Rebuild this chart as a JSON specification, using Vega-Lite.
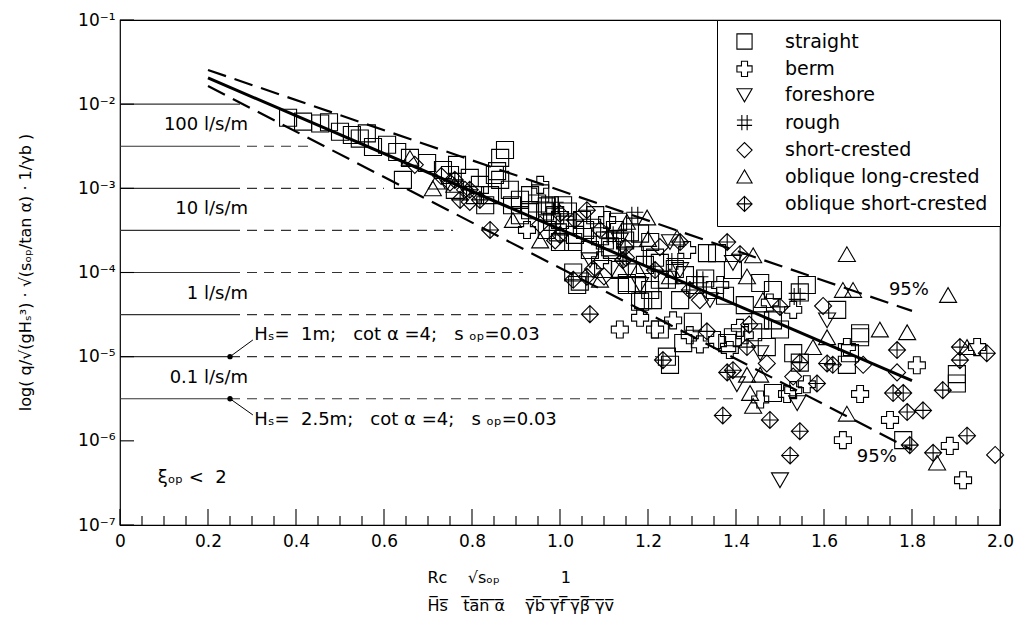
{
"$schema": "https://vega.github.io/schema/vega-lite/v6.json",
"width": 880, "height": 505,
"autosize": {"type": "none"},
"padding": {"left": 120, "top": 20, "right": 19, "bottom": 103},
"config": {
  "font": "DejaVu Sans",
  "view": {"stroke": "black", "strokeWidth": 1.2},
  "axis": {"grid": false, "ticks": false, "domain": false, "labelColor": "black", "titleColor": "black", "titleFontWeight": "normal", "labelOverlap": false, "labelFlush": false, "zindex": 1}
},
"datasets": {
  "xmaj": [{"v":0},{"v":0.2},{"v":0.4},{"v":0.6},{"v":0.8},{"v":1.0},{"v":1.2},{"v":1.4},{"v":1.6},{"v":1.8},{"v":2.0}],
  "xmin": [{"v":0.05},{"v":0.1},{"v":0.15},{"v":0.25},{"v":0.3},{"v":0.35},{"v":0.45},{"v":0.5},{"v":0.55},{"v":0.65},{"v":0.7},{"v":0.75},{"v":0.85},{"v":0.9},{"v":0.95},{"v":1.05},{"v":1.1},{"v":1.15},{"v":1.25},{"v":1.3},{"v":1.35},{"v":1.45},{"v":1.5},{"v":1.55},{"v":1.65},{"v":1.7},{"v":1.75},{"v":1.85},{"v":1.9},{"v":1.95}],
  "ymaj": [{"q":1e-7},{"q":1e-6},{"q":1e-5},{"q":1e-4},{"q":1e-3},{"q":1e-2},{"q":1e-1}],
  "hl": [
    {"q": 1e-2, "x0": 0, "xs": 0.25, "xe": 0.277},
    {"q": 3.162e-3, "x0": 0, "xs": 0.25, "xe": 0.44},
    {"q": 1e-3, "x0": 0, "xs": 0.25, "xe": 0.6},
    {"q": 3.162e-4, "x0": 0, "xs": 0.25, "xe": 0.757},
    {"q": 1e-4, "x0": 0, "xs": 0.25, "xe": 0.916},
    {"q": 3.162e-5, "x0": 0, "xs": 0.25, "xe": 1.04},
    {"q": 1e-5, "x0": 0, "xs": 0.25, "xe": 1.22},
    {"q": 3.162e-6, "x0": 0, "xs": 0.25, "xe": 1.40}
  ],
  "trend": [
    {"k": "mean", "x": 0.2, "q": 0.0205}, {"k": "mean", "x": 1.8, "q": 5.2e-6},
    {"k": "up", "x": 0.2, "q": 0.0255}, {"k": "up", "x": 1.8, "q": 3.5e-5},
    {"k": "lo", "x": 0.2, "q": 0.0164}, {"k": "lo", "x": 1.8, "q": 7.8e-7}
  ],
  "lead": [
    {"x": 0.25, "q": 1e-5, "xb": 0.302, "qb": 1.58e-5},
    {"x": 0.25, "q": 3.162e-6, "xb": 0.302, "qb": 2.03e-6}
  ],
  "dots": [{"x": 0.25, "q": 1e-5}, {"x": 0.25, "q": 3.162e-6}],
  "flow": [
    {"t": "100 l/s/m", "x": 0.291, "q": 5.62e-3},
    {"t": "10 l/s/m", "x": 0.291, "q": 5.62e-4},
    {"t": "1 l/s/m", "x": 0.291, "q": 5.62e-5},
    {"t": "0.1 l/s/m", "x": 0.291, "q": 5.62e-6}
  ],
  "notes": [
    {"t": "Hₛ=\u00a0\u00a01m;\u00a0\u00a0\u00a0cot α =4;\u00a0\u00a0\u00a0s ₒₚ=0.03", "x": 0.305, "q": 1.81e-5},
    {"t": "Hₛ=\u00a0\u00a02.5m;\u00a0\u00a0\u00a0cot α =4;\u00a0\u00a0\u00a0s ₒₚ=0.03", "x": 0.305, "q": 1.75e-6},
    {"t": "ξₒₚ <\u00a0\u00a02", "x": 0.086, "q": 3.62e-7}
  ],
  "pct": [
    {"t": "95%", "x": 1.793, "q": 6.2e-5},
    {"t": "95%", "x": 1.72, "q": 6.43e-7}
  ],
  "pts": [
    {"s":"straight","x":0.382,"q":6.9e-3},{"s":"straight","x":0.416,"q":6.2e-3},{"s":"straight","x":0.455,"q":5.9e-3},{"s":"straight","x":0.475,"q":6.1e-3},
    {"s":"straight","x":0.5,"q":4.7e-3},{"s":"straight","x":0.527,"q":4.3e-3},{"s":"straight","x":0.545,"q":3.9e-3},{"s":"straight","x":0.561,"q":4.5e-3},
    {"s":"straight","x":0.575,"q":3.1e-3},{"s":"straight","x":0.607,"q":3.3e-3},{"s":"straight","x":0.63,"q":2.7e-3},{"s":"straight","x":0.643,"q":1.26e-3},
    {"s":"straight","x":0.659,"q":2.3e-3},{"s":"straight","x":0.698,"q":2.0e-3},{"s":"straight","x":0.734,"q":1.65e-3},{"s":"straight","x":0.766,"q":1.9e-3},
    {"s":"straight","x":0.795,"q":1.33e-3},{"s":"straight","x":0.864,"q":2.3e-3},{"s":"straight","x":0.875,"q":2.85e-3},{"s":"straight","x":0.857,"q":1.6e-3},
    {"s":"straight","x":0.864,"q":1.26e-3},{"s":"straight","x":0.909,"q":7.3e-4},{"s":"straight","x":0.886,"q":9.6e-4},{"s":"straight","x":0.977,"q":6.3e-4},
    {"s":"straight","x":1.007,"q":6.3e-4},{"s":"straight","x":0.955,"q":8.7e-4},{"s":"straight","x":0.948,"q":6.6e-4},{"s":"straight","x":0.97,"q":6.1e-4},
    {"s":"straight","x":0.97,"q":3.2e-4},{"s":"straight","x":1.0,"q":4.2e-4},{"s":"straight","x":1.0,"q":2.3e-4},{"s":"straight","x":1.03,"q":2.3e-4},
    {"s":"straight","x":1.091,"q":2.7e-4},{"s":"straight","x":1.114,"q":2.0e-4},{"s":"straight","x":1.03,"q":1.0e-4},{"s":"straight","x":1.039,"q":7.1e-5},
    {"s":"straight","x":1.152,"q":7.1e-5},{"s":"straight","x":1.175,"q":7.1e-5},{"s":"straight","x":1.182,"q":2.9e-4},{"s":"straight","x":1.205,"q":2.3e-4},
    {"s":"straight","x":1.227,"q":1.3e-4},{"s":"straight","x":1.243,"q":8.2e-5},{"s":"straight","x":1.189,"q":4.7e-5},{"s":"straight","x":1.211,"q":4.7e-5},
    {"s":"straight","x":1.045,"q":7.8e-5},{"s":"straight","x":1.098,"q":1.1e-4},{"s":"straight","x":1.152,"q":7.5e-5},{"s":"straight","x":1.182,"q":4.5e-5},
    {"s":"straight","x":1.205,"q":6.2e-5},{"s":"straight","x":1.227,"q":8.2e-5},{"s":"straight","x":1.334,"q":1.7e-4},{"s":"straight","x":1.357,"q":1.7e-4},
    {"s":"straight","x":1.393,"q":1.07e-4},{"s":"straight","x":1.455,"q":7.5e-5},{"s":"straight","x":1.484,"q":6.2e-5},{"s":"straight","x":1.545,"q":5.8e-5},
    {"s":"straight","x":1.561,"q":7.1e-5},{"s":"straight","x":1.63,"q":3.6e-5},{"s":"straight","x":1.682,"q":1.9e-5},{"s":"straight","x":1.227,"q":2.1e-5},
    {"s":"straight","x":1.28,"q":1.45e-5},{"s":"straight","x":1.243,"q":1.0e-5},{"s":"straight","x":1.25,"q":8.0e-6},{"s":"straight","x":1.302,"q":2.6e-5},
    {"s":"straight","x":1.38,"q":1.45e-5},{"s":"straight","x":1.393,"q":1.7e-5},{"s":"straight","x":1.439,"q":1.95e-5},{"s":"straight","x":1.47,"q":1.3e-5},
    {"s":"straight","x":1.455,"q":2.7e-5},{"s":"straight","x":1.484,"q":2.7e-5},{"s":"straight","x":1.5,"q":2.1e-5},{"s":"straight","x":1.53,"q":1.1e-5},
    {"s":"straight","x":1.545,"q":8.5e-6},{"s":"straight","x":1.652,"q":8.0e-6},{"s":"straight","x":1.659,"q":1.1e-5},{"s":"straight","x":1.682,"q":1.7e-5},
    {"s":"straight","x":1.484,"q":3.7e-6},{"s":"straight","x":1.78,"q":1.02e-6},{"s":"straight","x":1.902,"q":4.8e-6},{"s":"straight","x":1.902,"q":6.2e-6},
    {"s":"straight","x":0.932,"q":5.5e-4},{"s":"straight","x":0.989,"q":4.8e-4},{"s":"straight","x":1.011,"q":3.7e-4},{"s":"straight","x":1.057,"q":3.2e-4},
    {"s":"straight","x":1.08,"q":4.8e-4},{"s":"straight","x":1.125,"q":3.2e-4},{"s":"straight","x":1.148,"q":2.4e-4},{"s":"straight","x":1.068,"q":1.85e-4},
    {"s":"straight","x":1.17,"q":1.6e-4},{"s":"straight","x":1.193,"q":1.23e-4},{"s":"straight","x":1.216,"q":1.5e-4},{"s":"straight","x":1.261,"q":1.1e-4},
    {"s":"straight","x":1.284,"q":9.3e-5},{"s":"straight","x":1.307,"q":7.1e-5},{"s":"straight","x":1.33,"q":8.5e-5},{"s":"straight","x":1.352,"q":6.2e-5},
    {"s":"straight","x":1.375,"q":5.3e-5},{"s":"straight","x":1.42,"q":4.1e-5},{"s":"straight","x":0.75,"q":1.44e-3},{"s":"straight","x":0.818,"q":1.1e-3},
    {"s":"straight","x":0.841,"q":8.3e-4},{"s":"straight","x":1.118,"q":1.85e-4},{"s":"straight","x":1.273,"q":4.7e-5},{"s":"straight","x":1.136,"q":1.07e-4},
    {"s":"straight","x":0.966,"q":5.3e-4},{"s":"straight","x":0.982,"q":4.0e-4},{"s":"straight","x":0.995,"q":3.0e-4},{"s":"straight","x":1.018,"q":5.3e-4},
    {"s":"straight","x":1.034,"q":2.8e-4},{"s":"straight","x":1.05,"q":4.2e-4},{"s":"straight","x":1.073,"q":3.4e-4},{"s":"straight","x":1.102,"q":2.4e-4},
    {"s":"straight","x":1.132,"q":4.0e-4},{"s":"straight","x":1.159,"q":3.0e-4},{"s":"straight","x":0.909,"q":4.8e-4},{"s":"straight","x":0.932,"q":8.3e-4},
    {"s":"straight","x":0.891,"q":6.3e-4},{"s":"straight","x":0.761,"q":9.6e-4},{"s":"straight","x":0.807,"q":8.3e-4},{"s":"straight","x":0.83,"q":6.3e-4},
    {"s":"straight","x":0.852,"q":1.44e-3},
    {"s":"berm","x":0.955,"q":1.1e-3},{"s":"berm","x":0.925,"q":3.2e-4},{"s":"berm","x":1.107,"q":4.2e-4},{"s":"berm","x":1.257,"q":2.7e-5},
    {"s":"berm","x":1.289,"q":1.85e-4},{"s":"berm","x":1.357,"q":1.58e-5},{"s":"berm","x":1.409,"q":2.2e-5},{"s":"berm","x":1.42,"q":1.8e-5},
    {"s":"berm","x":1.455,"q":3.1e-6},{"s":"berm","x":1.516,"q":3.6e-6},{"s":"berm","x":1.53,"q":3.6e-5},{"s":"berm","x":1.53,"q":4.0e-6},
    {"s":"berm","x":1.561,"q":4.7e-6},{"s":"berm","x":1.652,"q":1.3e-5},{"s":"berm","x":1.682,"q":3.6e-6},{"s":"berm","x":1.75,"q":1.77e-6},
    {"s":"berm","x":1.811,"q":7.9e-6},{"s":"berm","x":1.643,"q":1.02e-6},{"s":"berm","x":1.886,"q":8.7e-7},{"s":"berm","x":1.916,"q":3.4e-7},
    {"s":"berm","x":1.948,"q":1.3e-5},{"s":"berm","x":1.182,"q":2.9e-5},{"s":"berm","x":1.216,"q":2.1e-5},{"s":"berm","x":1.295,"q":1.8e-5},
    {"s":"berm","x":1.318,"q":1.4e-5},{"s":"berm","x":1.386,"q":1.2e-5},{"s":"berm","x":1.136,"q":2.1e-5},{"s":"berm","x":1.091,"q":1.4e-4},
    {"s":"berm","x":1.364,"q":7.1e-5},{"s":"berm","x":1.477,"q":4.4e-5},
    {"s":"foreshore","x":1.402,"q":4.7e-6},{"s":"foreshore","x":1.539,"q":2.8e-6},{"s":"foreshore","x":1.5,"q":3.4e-7},{"s":"foreshore","x":1.607,"q":2.7e-5},
    {"s":"foreshore","x":1.068,"q":1.4e-4},{"s":"foreshore","x":1.182,"q":7.1e-5},{"s":"foreshore","x":1.341,"q":4.7e-5},{"s":"foreshore","x":1.455,"q":1.1e-5},
    {"s":"foreshore","x":1.273,"q":1.07e-4},{"s":"foreshore","x":1.136,"q":2.4e-4},{"s":"foreshore","x":1.25,"q":2.3e-4},{"s":"foreshore","x":1.393,"q":1.3e-4},
    {"s":"rough","x":1.539,"q":5.2e-5},{"s":"rough","x":1.17,"q":4.8e-4},{"s":"rough","x":0.989,"q":6.3e-4},{"s":"rough","x":1.318,"q":8.2e-5},
    {"s":"rough","x":1.114,"q":2.8e-4},{"s":"rough","x":1.261,"q":1.35e-4},
    {"s":"short-crested","x":0.795,"q":6.9e-4},{"s":"short-crested","x":1.075,"q":1.1e-4},{"s":"short-crested","x":1.598,"q":4.0e-5},{"s":"short-crested","x":1.689,"q":8.0e-6},
    {"s":"short-crested","x":1.766,"q":6.5e-6},{"s":"short-crested","x":1.989,"q":6.8e-7},{"s":"short-crested","x":0.75,"q":1.17e-3},{"s":"short-crested","x":0.784,"q":9.6e-4},
    {"s":"short-crested","x":0.67,"q":1.9e-3},{"s":"short-crested","x":0.955,"q":3.7e-4},{"s":"short-crested","x":0.989,"q":2.4e-4},{"s":"short-crested","x":1.091,"q":3.2e-4},
    {"s":"short-crested","x":1.227,"q":2.0e-4},{"s":"short-crested","x":1.318,"q":4.7e-5},{"s":"short-crested","x":1.47,"q":8.3e-6},{"s":"short-crested","x":1.53,"q":5.8e-6},
    {"s":"short-crested","x":1.0,"q":5.0e-4},{"s":"short-crested","x":1.15,"q":1.5e-4},{"s":"short-crested","x":0.73,"q":1.4e-3},{"s":"short-crested","x":1.1,"q":9.0e-5},
    {"s":"short-crested","x":1.43,"q":2.4e-5},
    {"s":"oblique long-crested","x":0.711,"q":1.0e-3},{"s":"oblique long-crested","x":0.72,"q":1.2e-3},{"s":"oblique long-crested","x":0.659,"q":2.3e-3},{"s":"oblique long-crested","x":0.893,"q":4.2e-4},
    {"s":"oblique long-crested","x":1.198,"q":4.5e-4},{"s":"oblique long-crested","x":1.266,"q":2.6e-4},{"s":"oblique long-crested","x":1.439,"q":1.6e-4},{"s":"oblique long-crested","x":1.425,"q":9.0e-5},
    {"s":"oblique long-crested","x":1.25,"q":9.0e-5},{"s":"oblique long-crested","x":1.461,"q":4.7e-5},{"s":"oblique long-crested","x":1.575,"q":1.3e-5},{"s":"oblique long-crested","x":1.607,"q":1.7e-5},
    {"s":"oblique long-crested","x":1.643,"q":6.2e-5},{"s":"oblique long-crested","x":1.666,"q":6.2e-5},{"s":"oblique long-crested","x":1.652,"q":1.65e-4},{"s":"oblique long-crested","x":1.727,"q":2.1e-5},
    {"s":"oblique long-crested","x":1.789,"q":1.95e-5},{"s":"oblique long-crested","x":1.882,"q":5.4e-5},{"s":"oblique long-crested","x":1.425,"q":6.1e-6},{"s":"oblique long-crested","x":1.455,"q":6.1e-6},
    {"s":"oblique long-crested","x":1.432,"q":3.7e-6},{"s":"oblique long-crested","x":1.439,"q":2.6e-6},{"s":"oblique long-crested","x":1.652,"q":2.1e-6},{"s":"oblique long-crested","x":1.857,"q":5.5e-7},
    {"s":"oblique long-crested","x":1.925,"q":1.3e-5},{"s":"oblique long-crested","x":1.091,"q":8.2e-5},{"s":"oblique long-crested","x":0.955,"q":2.4e-4},{"s":"oblique long-crested","x":1.152,"q":4.0e-4},
    {"s":"oblique long-crested","x":1.136,"q":1.07e-4},{"s":"oblique long-crested","x":1.177,"q":1.07e-4},{"s":"oblique long-crested","x":0.76,"q":1.1e-3},{"s":"oblique long-crested","x":1.2,"q":2.5e-4},
    {"s":"oblique short-crested","x":0.841,"q":3.2e-4},{"s":"oblique short-crested","x":0.773,"q":7.3e-4},{"s":"oblique short-crested","x":0.818,"q":7.3e-4},{"s":"oblique short-crested","x":1.061,"q":5.5e-4},
    {"s":"oblique short-crested","x":1.061,"q":8.9e-5},{"s":"oblique short-crested","x":1.143,"q":1.4e-4},{"s":"oblique short-crested","x":1.068,"q":3.2e-5},{"s":"oblique short-crested","x":1.03,"q":8.2e-5},
    {"s":"oblique short-crested","x":1.273,"q":2.3e-4},{"s":"oblique short-crested","x":1.38,"q":2.3e-4},{"s":"oblique short-crested","x":1.409,"q":1.65e-4},{"s":"oblique short-crested","x":1.5,"q":3.9e-5},
    {"s":"oblique short-crested","x":1.334,"q":2.0e-5},{"s":"oblique short-crested","x":1.425,"q":1.3e-5},{"s":"oblique short-crested","x":1.545,"q":8.5e-6},{"s":"oblique short-crested","x":1.607,"q":8.3e-6},
    {"s":"oblique short-crested","x":1.62,"q":8.0e-6},{"s":"oblique short-crested","x":1.234,"q":9.1e-6},{"s":"oblique short-crested","x":1.38,"q":6.5e-6},{"s":"oblique short-crested","x":1.393,"q":6.9e-6},
    {"s":"oblique short-crested","x":1.584,"q":4.8e-6},{"s":"oblique short-crested","x":1.766,"q":1.2e-5},{"s":"oblique short-crested","x":1.757,"q":3.7e-6},{"s":"oblique short-crested","x":1.78,"q":3.7e-6},
    {"s":"oblique short-crested","x":1.789,"q":2.2e-6},{"s":"oblique short-crested","x":1.825,"q":2.3e-6},{"s":"oblique short-crested","x":1.87,"q":4.0e-6},{"s":"oblique short-crested","x":1.909,"q":1.3e-5},
    {"s":"oblique short-crested","x":1.909,"q":9.1e-6},{"s":"oblique short-crested","x":1.97,"q":1.1e-5},{"s":"oblique short-crested","x":1.37,"q":2.0e-6},{"s":"oblique short-crested","x":1.477,"q":1.77e-6},
    {"s":"oblique short-crested","x":1.545,"q":1.3e-6},{"s":"oblique short-crested","x":1.523,"q":6.7e-7},{"s":"oblique short-crested","x":1.795,"q":8.9e-7},{"s":"oblique short-crested","x":1.848,"q":7.2e-7},
    {"s":"oblique short-crested","x":1.925,"q":1.15e-6},{"s":"oblique short-crested","x":1.0,"q":2.8e-4},{"s":"oblique short-crested","x":1.034,"q":4.2e-4},{"s":"oblique short-crested","x":1.148,"q":2.0e-4},
    {"s":"oblique short-crested","x":1.216,"q":1.07e-4},{"s":"oblique short-crested","x":1.295,"q":6.2e-5},{"s":"oblique short-crested","x":0.761,"q":1.26e-3},{"s":"oblique short-crested","x":0.795,"q":9.6e-4}
  ]
},
"layer": [
  {
    "data": {"name": "hl"},
    "mark": {"type": "rule", "stroke": "#333333", "strokeWidth": 1.2},
    "encoding": {
      "x": {"field": "x0", "type": "quantitative",
        "scale": {"domain": [0, 2], "nice": false, "zero": false},
        "axis": {
          "values": [0,0.2,0.4,0.6,0.8,1.0,1.2,1.4,1.6,1.8,2.0],
          "labelPadding": 8,
          "labelFontSize": 17,
          "labelExpr": "datum.value==0 ? '0' : format(datum.value,'.1f')",
          "title": ["Rc\u00a0\u00a0\u00a0\u00a0√sₒₚ\u00a0\u00a0\u00a0\u00a0\u00a0\u00a0\u00a0\u00a0\u00a0\u00a0\u00a0\u00a01", "H̅s̅\u00a0\u00a0\u00a0t̅a̅n̅ ̅α̅\u00a0\u00a0\u00a0\u00a0γ̅b̅ ̅γ̅f̅ ̅γ̅β̅ ̅γ̅v̅"],
          "titleFontSize": 16,
          "titleAnchor": "start",
          "titleAlign": "left",
          "titleX": 307,
          "titleY": 44,
          "titleBaseline": "top",
          "titleLineHeight": 28
        }
      },
      "x2": {"field": "xs"},
      "y": {"field": "q", "type": "quantitative",
        "scale": {"type": "log", "domain": [1e-7, 0.1], "nice": false},
        "axis": {
          "values": [1e-7, 1e-6, 1e-5, 1e-4, 1e-3, 1e-2, 1e-1],
          "labelPadding": 5, "labelFontSize": 17,
          "labelExpr": "datum.value < 2e-7 ? '10⁻⁷' : datum.value < 2e-6 ? '10⁻⁶' : datum.value < 2e-5 ? '10⁻⁵' : datum.value < 2e-4 ? '10⁻⁴' : datum.value < 2e-3 ? '10⁻³' : datum.value < 2e-2 ? '10⁻²' : '10⁻¹'",
          "title": "log( q/√(gHₛ³) · √(sₒₚ/tan α) · 1/γb )",
          "titleFontSize": 16, "titleX": -95, "titleY": 252, "titleAngle": 270, "titleBaseline": "middle", "titleAlign": "center"
        }
      }
    }
  },
  {
    "data": {"name": "hl"},
    "mark": {"type": "rule", "stroke": "#333333", "strokeWidth": 1.2, "strokeDash": [10, 7]},
    "encoding": {
      "x": {"field": "xs", "type": "quantitative"},
      "x2": {"field": "xe"},
      "y": {"field": "q", "type": "quantitative"}
    }
  },
  {
    "data": {"name": "xmaj"},
    "mark": {"type": "rule", "color": "black", "strokeWidth": 1.1, "y2Offset": -16},
    "encoding": {
      "x": {"field": "v", "type": "quantitative"},
      "y": {"datum": 1e-7},
      "y2": {"datum": 1e-7}
    }
  },
  {
    "data": {"name": "xmin"},
    "mark": {"type": "rule", "color": "black", "strokeWidth": 1.1, "y2Offset": -9},
    "encoding": {
      "x": {"field": "v", "type": "quantitative"},
      "y": {"datum": 1e-7},
      "y2": {"datum": 1e-7}
    }
  },
  {
    "data": {"name": "ymaj"},
    "mark": {"type": "rule", "color": "black", "strokeWidth": 1.1, "x2Offset": 14},
    "encoding": {
      "y": {"field": "q", "type": "quantitative"},
      "x": {"datum": 0},
      "x2": {"datum": 0}
    }
  },
  {
    "data": {"name": "lead"},
    "mark": {"type": "rule", "stroke": "black", "strokeWidth": 1},
    "encoding": {
      "x": {"field": "x", "type": "quantitative"},
      "x2": {"field": "xb"},
      "y": {"field": "q", "type": "quantitative"},
      "y2": {"field": "qb"}
    }
  },
  {
    "data": {"name": "dots"},
    "mark": {"type": "point", "filled": true, "color": "black", "size": 28, "opacity": 1},
    "encoding": {
      "x": {"field": "x", "type": "quantitative"},
      "y": {"field": "q", "type": "quantitative"}
    }
  },
  {
    "data": {"name": "pts"},
    "mark": {"type": "point", "filled": false, "color": "black", "strokeWidth": 1.1, "size": 290, "opacity": 1},
    "encoding": {
      "x": {"field": "x", "type": "quantitative"},
      "y": {"field": "q", "type": "quantitative"},
      "shape": {"field": "s", "type": "nominal",
        "scale": {
          "domain": ["straight", "berm", "foreshore", "rough", "short-crested", "oblique long-crested", "oblique short-crested"],
          "range": ["square", "cross", "triangle-down", "M-0.35,-1L-0.35,1M0.35,-1L0.35,1M-1,-0.35L1,-0.35M-1,0.35L1,0.35", "diamond", "triangle-up", "M0,-1L1,0L0,1L-1,0ZM0,-1L0,1M-1,0L1,0"]
        },
        "legend": {
          "title": null, "orient": "top-right", "offset": 0, "padding": 12,
          "strokeColor": "black", "fillColor": "white", "cornerRadius": 0,
          "labelFontSize": 19, "labelColor": "black", "labelOffset": 31, "labelLimit": 400,
          "symbolSize": 230, "symbolStrokeWidth": 1.1, "symbolStrokeColor": "black", "symbolFillColor": "transparent",
          "symbolOffset": 6,
          "rowPadding": 6.4
        }
      }
    }
  },
  {
    "data": {"name": "trend"},
    "transform": [{"filter": "datum.k == 'mean'"}],
    "mark": {"type": "line", "color": "black", "strokeWidth": 3},
    "encoding": {
      "x": {"field": "x", "type": "quantitative"},
      "y": {"field": "q", "type": "quantitative"},
      "detail": {"field": "k"}
    }
  },
  {
    "data": {"name": "trend"},
    "transform": [{"filter": "datum.k != 'mean'"}],
    "mark": {"type": "line", "color": "black", "strokeWidth": 2.2, "strokeDash": [19, 9]},
    "encoding": {
      "x": {"field": "x", "type": "quantitative"},
      "y": {"field": "q", "type": "quantitative"},
      "detail": {"field": "k"}
    }
  },
  {
    "data": {"name": "flow"},
    "mark": {"type": "text", "align": "right", "baseline": "middle", "fontSize": 18, "color": "black"},
    "encoding": {
      "x": {"field": "x", "type": "quantitative"},
      "y": {"field": "q", "type": "quantitative"},
      "text": {"field": "t"}
    }
  },
  {
    "data": {"name": "notes"},
    "mark": {"type": "text", "align": "left", "baseline": "middle", "fontSize": 18, "color": "black"},
    "encoding": {
      "x": {"field": "x", "type": "quantitative"},
      "y": {"field": "q", "type": "quantitative"},
      "text": {"field": "t"}
    }
  },
  {
    "data": {"name": "pct"},
    "mark": {"type": "text", "align": "center", "baseline": "middle", "fontSize": 18, "color": "black"},
    "encoding": {
      "x": {"field": "x", "type": "quantitative"},
      "y": {"field": "q", "type": "quantitative"},
      "text": {"field": "t"}
    }
  }
]
}
